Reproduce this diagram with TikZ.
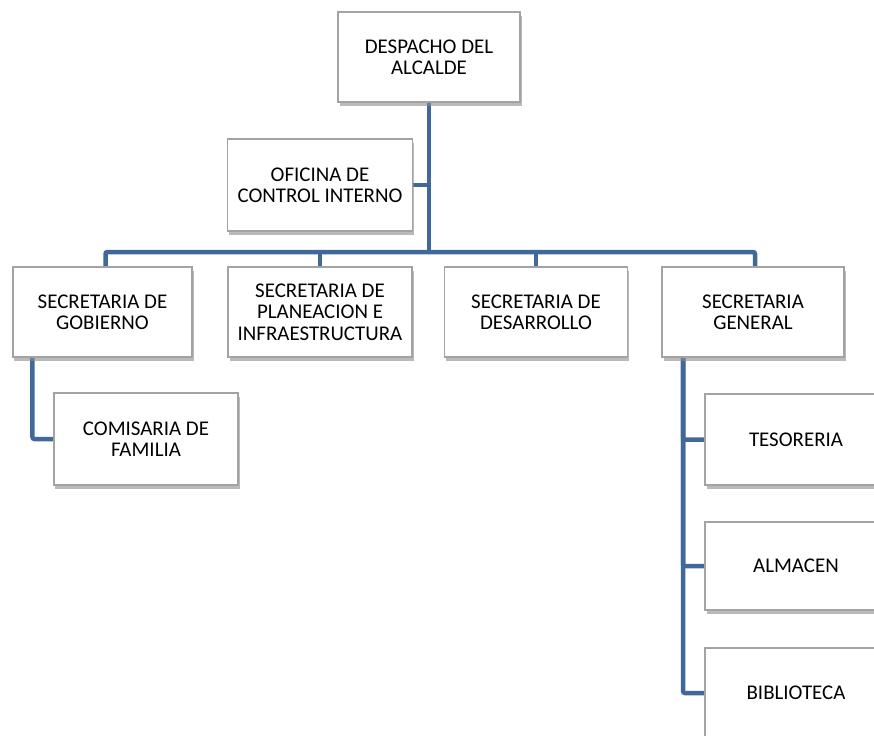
\documentclass[tikz,border=0pt]{standalone}
\usepackage{fontspec}
\setmainfont{Carlito}
\usetikzlibrary{shadows,backgrounds}
\definecolor{conncol}{HTML}{41689B}
\definecolor{boxline}{HTML}{A3A3A3}
\tikzset{
  orgbox/.style={draw=boxline, line width=1.8bp, fill=white, align=center,
    minimum width=182bp, minimum height=90bp, inner sep=2bp,
    font=\fontsize{21}{21.5}\selectfont,
    drop shadow={shadow xshift=1.5bp, shadow yshift=-4bp, fill=black!45, opacity=0.6}},
  conn/.style={draw=conncol, line width=4.5bp, rounded corners=2bp}
}
\begin{document}
\begin{tikzpicture}[x=1bp,y=-1bp]
\useasboundingbox (0,0) rectangle (874,736);
\node[orgbox] (desp) at (429,57) {DESPACHO DEL\\ALCALDE};
\node[orgbox, minimum width=185bp, minimum height=92bp] (ofi) at (320,185) {OFICINA  DE\\CONTROL INTERNO};
\node[orgbox, minimum width=179bp] (gob) at (102.5,312) {SECRETARIA  DE\\GOBIERNO};
\node[orgbox, minimum width=184bp] (plan) at (320,312) {SECRETARIA  DE\\PLANEACION  E\\INFRAESTRUCTURA};
\node[orgbox, minimum width=183bp] (desa) at (536,312) {SECRETARIA  DE\\DESARROLLO};
\node[orgbox] (gen) at (753,312) {SECRETARIA\\GENERAL};
\node[orgbox, minimum width=184bp, minimum height=92bp] (com) at (146,439) {COMISARIA  DE\\FAMILIA};
\node[orgbox, minimum height=91bp] (tes) at (796,439.5) {TESORERIA};
\node[orgbox, minimum height=88bp] (alm) at (796,566) {ALMACEN};
\node[orgbox] (bib) at (796,693) {BIBLIOTECA};
\coordinate (hb) at (429,252);
\begin{scope}[on background layer]
\draw[conn] (desp.south) -- (hb);
\draw[conn] (ofi.east) -- (ofi.east -| hb);
\draw[conn] ([xshift=3bp]gob.north) |- (hb) -| ([xshift=2bp]gen.north);
\draw[conn] (plan.north) -- (plan.north |- hb);
\draw[conn] (desa.north) -- (desa.north |- hb);
\draw[conn] ([xshift=-70bp]gob.south) |- (com.west);
\draw[conn] ([xshift=-70bp]gen.south) |- (tes.west);
\draw[conn] ([xshift=-70bp]gen.south) |- (alm.west);
\draw[conn] ([xshift=-70bp]gen.south) |- (bib.west);
\end{scope}
\end{tikzpicture}
\end{document}
